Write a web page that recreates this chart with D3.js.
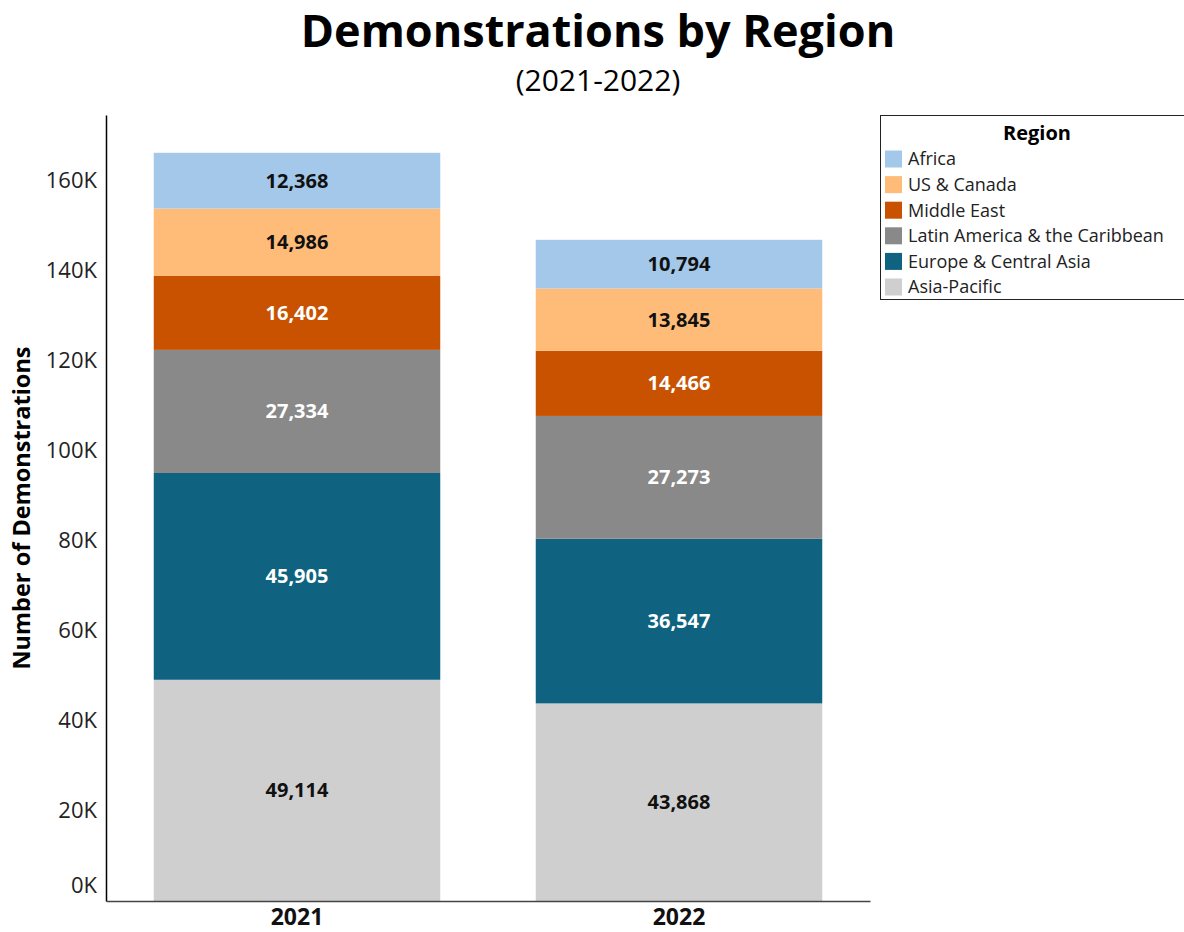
<!DOCTYPE html>
<html>
<head>
<meta charset="utf-8">
<script src="https://cdn.jsdelivr.net/npm/d3@7"></script>
<style>
  body { margin: 0; background: #fff; font-family: "Open Sans", sans-serif; }
  svg { display: block; }
</style>
</head>
<body>
<svg id="chart" width="1184" height="932"></svg>
<script>
// data
const years = ["2021", "2022"];
const regions = ["Asia-Pacific", "Europe & Central Asia", "Latin America & the Caribbean", "Middle East", "US & Canada", "Africa"];
const asiaPacific = [49114, 43868];
const europeCentralAsia = [45905, 36547];
const latinAmerica = [27334, 27273];
const middleEast = [16402, 14466];
const usCanada = [14986, 13845];
const africa = [12368, 10794];
const yTicks = [0, 20000, 40000, 60000, 80000, 100000, 120000, 140000, 160000];

const seriesValues = [asiaPacific, europeCentralAsia, latinAmerica, middleEast, usCanada, africa];
const colors = ["#cfcfcf", "#0f6380", "#898989", "#c85200", "#ffbc79", "#a3c8ea"];
const labelColors = ["#111", "#fff", "#fff", "#fff", "#111", "#111"];

const table = years.map((y, i) => {
  const row = {year: y};
  regions.forEach((r, j) => row[r] = seriesValues[j][i]);
  return row;
});

const svg = d3.select("#chart");
const margin = {left: 106, right: 314, top: 115, bottom: 31};
const width = 1184 - margin.left - margin.right;
const height = 932 - margin.top - margin.bottom;

// title
svg.append("text")
  .attr("x", 598).attr("y", 47)
  .attr("text-anchor", "middle")
  .style("font-size", "45px").style("font-weight", "700")
  .text("Demonstrations by Region");
svg.append("text")
  .attr("x", 598).attr("y", 91)
  .attr("text-anchor", "middle")
  .style("font-size", "30px")
  .text("(2021-2022)");

const g = svg.append("g").attr("transform", "translate(" + margin.left + "," + margin.top + ")");

const x = d3.scaleBand()
  .domain(years)
  .range([0, width])
  .paddingInner(0.25)
  .paddingOuter(0.125);

const y = d3.scaleLinear()
  .domain([0, 174500])
  .range([height, 0]);

const stack = d3.stack().keys(regions)(table);

// bars
const layers = g.selectAll(".layer")
  .data(stack)
  .enter()
  .append("g")
  .attr("fill", (d, i) => colors[i]);

layers.selectAll("rect")
  .data(d => d)
  .enter()
  .append("rect")
  .attr("x", d => x(d.data.year))
  .attr("y", d => y(d[1]))
  .attr("width", x.bandwidth())
  .attr("height", d => y(d[0]) - y(d[1]));

// value labels
stack.forEach((layer, i) => {
  g.selectAll(".lbl" + i)
    .data(layer)
    .enter()
    .append("text")
    .attr("x", d => x(d.data.year) + x.bandwidth() / 2)
    .attr("y", d => (y(d[0]) + y(d[1])) / 2)
    .attr("dy", "0.35em")
    .attr("text-anchor", "middle")
    .attr("fill", labelColors[i])
    .style("font-size", "20px").style("font-weight", "700")
    .text(d => d3.format(",")(d[1] - d[0]));
});

// y axis
const yAxis = g.append("g")
  .call(d3.axisLeft(y).tickValues(yTicks).tickSize(0).tickPadding(9).tickFormat(d => (d / 1000) + "K"));
yAxis.select(".domain").attr("stroke", "#000").attr("stroke-width", 1.5);
yAxis.selectAll("text")
  .style("font-size", "22px").style("font-family", "Open Sans").attr("fill", "#222")
  .attr("dy", d => d === 0 ? "-0.4em" : "0.32em");

// x axis
const xAxis = g.append("g")
  .attr("transform", "translate(0," + height + ")")
  .call(d3.axisBottom(x).tickSize(0).tickPadding(8));
xAxis.select(".domain").attr("stroke", "#444").attr("stroke-width", 1.5);
xAxis.selectAll("text")
  .style("font-size", "23px").style("font-family", "Open Sans").style("font-weight", "700").attr("fill", "#111");

// y title
svg.append("text")
  .attr("transform", "translate(30," + (margin.top + height / 2) + ") rotate(-90)")
  .attr("text-anchor", "middle")
  .style("font-size", "23.5px").style("font-weight", "700")
  .text("Number of Demonstrations");

// legend
const legend = svg.append("g").attr("transform", "translate(880,115)");
legend.append("rect")
  .attr("x", 0.5).attr("y", 0.5).attr("width", 312).attr("height", 184)
  .attr("fill", "#fff").attr("stroke", "#222").attr("stroke-width", 1);
legend.append("text")
  .attr("x", 157).attr("y", 25)
  .attr("text-anchor", "middle")
  .style("font-size", "20px").style("font-weight", "700")
  .text("Region");
const legendOrder = regions.slice().reverse();
legendOrder.forEach((r, k) => {
  const idx = regions.indexOf(r);
  const row = legend.append("g").attr("transform", "translate(0," + (44 + k * 25.6) + ")");
  row.append("rect").attr("x", 5).attr("y", -8.5).attr("width", 17).attr("height", 17).attr("fill", colors[idx]);
  row.append("text").attr("x", 28).attr("dy", "0.35em")
    .style("font-size", "18px").attr("fill", "#222").text(r);
});
</script>
</body>
</html>
